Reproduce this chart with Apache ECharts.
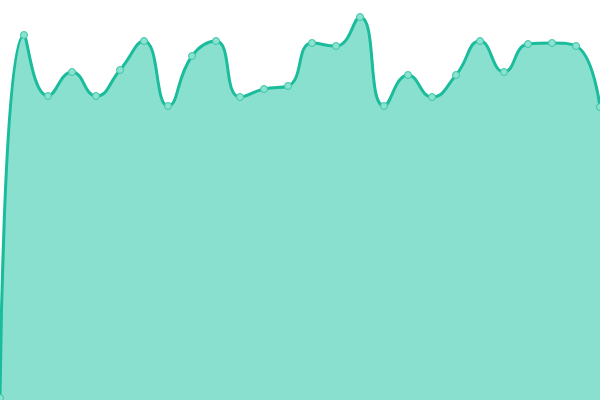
<!DOCTYPE html>
<html>
<head>
<meta charset="utf-8">
<script src="https://cdn.jsdelivr.net/npm/echarts@6/dist/echarts.min.js"></script>
<style>
  html, body { margin: 0; padding: 0; background: #fff; }
  #main { width: 600px; height: 400px; }
</style>
</head>
<body>
<div id="main"></div>
<script>
var categories = [];
for (var i = 1; i <= 26; i++) categories.push(String(i));

var values = [2, 365, 304, 328, 304, 330, 359, 294, 344, 359, 303, 311, 314,
              357, 354, 383, 294, 325, 303, 325, 359, 328, 356, 357, 354, 293];

var chart = echarts.init(document.getElementById('main'));

var option = {
  animation: false,
  grid: { left: 0, right: 0, top: 0, bottom: 0 },
  xAxis: {
    type: 'category',
    data: categories,
    boundaryGap: false,
    show: false
  },
  yAxis: {
    type: 'value',
    min: 0,
    max: 400,
    show: false
  },
  series: [{
    type: 'line',
    data: values,
    smooth: true,
    symbol: 'circle',
    symbolSize: 7,
    lineStyle: { color: '#1abc9c', width: 3 },
    itemStyle: { color: '#8ae3d0', borderColor: '#3cc4a6', borderWidth: 1 },
    areaStyle: { color: '#8ae0cf', opacity: 1 }
  }]
};

chart.setOption(option);
</script>
</body>
</html>
